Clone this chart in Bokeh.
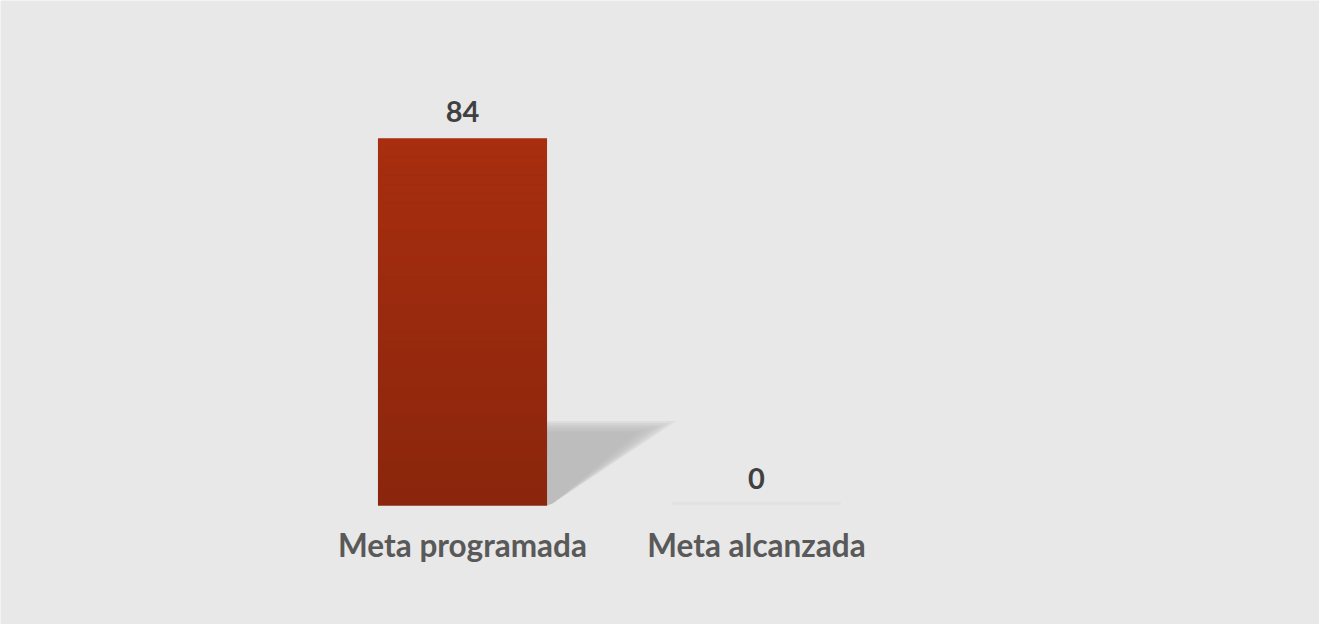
from bokeh.plotting import figure
from bokeh.embed import file_html
from bokeh.resources import INLINE
from bokeh.core.properties import value
from bokeh.models import Range1d

categories = ["Meta programada", "Meta alcanzada"]
values = [84, 0]
value_labels = ["84", "0"]

W, H = 1319, 624
BG = "#E8E8E8"
bar_width = 0.575
px_per_x = 294.0
px_per_y = 367.0 / 84.0
x0_px = 462.0      # frame px of first category centre
base_px = 505.0    # frame px of baseline

x_start = -x0_px / px_per_x
x_end = x_start + W / px_per_x
y_start = -(H - base_px) / px_per_y
y_end = y_start + H / px_per_y

p = figure(width=W, height=H, output_backend="svg", toolbar_location=None,
           x_range=Range1d(x_start, x_end), y_range=Range1d(y_start, y_end),
           min_border=0, min_border_left=0, min_border_right=0,
           min_border_top=0, min_border_bottom=0)
p.xaxis.visible = False
p.yaxis.visible = False
p.grid.visible = False
p.outline_line_color = None
p.background_fill_color = BG
p.border_fill_color = BG

xs = list(range(len(categories)))

def lerp(c1, c2, t):
    a = [int(c1[i:i + 2], 16) for i in (1, 3, 5)]
    b = [int(c2[i:i + 2], 16) for i in (1, 3, 5)]
    return "#%02x%02x%02x" % tuple(round(a[k] + (b[k] - a[k]) * t) for k in range(3))

# shadows
for x, v in zip(xs, values):
    xr = x + bar_width / 2
    if v > 0:
        top = v * 0.23
        dx = 0.44
        layers = 7
        for i in range(layers):
            s = 1.0 - i * 0.05
            p.patch([xr, xr, xr + dx * s, xr + 0.02],
                    [0, top * (0.92 + 0.08 * s) - i * 0.35, top * (0.92 + 0.08 * s) - i * 0.35, 0.5],
                    fill_color="#B4B4B4", fill_alpha=0.2, line_color=None)
    else:
        p.line([x - bar_width / 2, x + bar_width / 2], [0.4, 0.4],
               line_color="#E2E2E2", line_width=3)

# bars with vertical gradient
N = 40
for x, v in zip(xs, values):
    if v <= 0:
        continue
    p.quad(left=x - bar_width / 2, right=x + bar_width / 2, bottom=0, top=v,
           fill_color=lerp("#8A260C", "#A82E0F", 0.5), line_color=None)
    for i in range(N):
        b = v * i / N
        t = v * (i + 1) / N
        c = lerp("#8A260C", "#A82E0F", (i + 0.5) / N)
        p.quad(left=x - bar_width / 2, right=x + bar_width / 2, bottom=b, top=t,
               fill_color=c, line_color=None)

# value labels
lab_off = 27.0 / px_per_y
p.text(x=xs, y=[v + lab_off for v in values], text=value_labels,
       text_font=value("Lato"), text_font_style="bold", text_font_size="29px",
       text_color="#404040", text_align="center", text_baseline="alphabetic")

# category labels
cat_y = -(552 - 8 - base_px) / px_per_y
p.text(x=xs, y=[cat_y] * len(xs), text=categories,
       text_font=value("Lato"), text_font_style="bold", text_font_size="31.5px",
       text_color="#595959", text_align="center", text_baseline="middle")

open("out.html", "w").write(file_html(p, INLINE))
